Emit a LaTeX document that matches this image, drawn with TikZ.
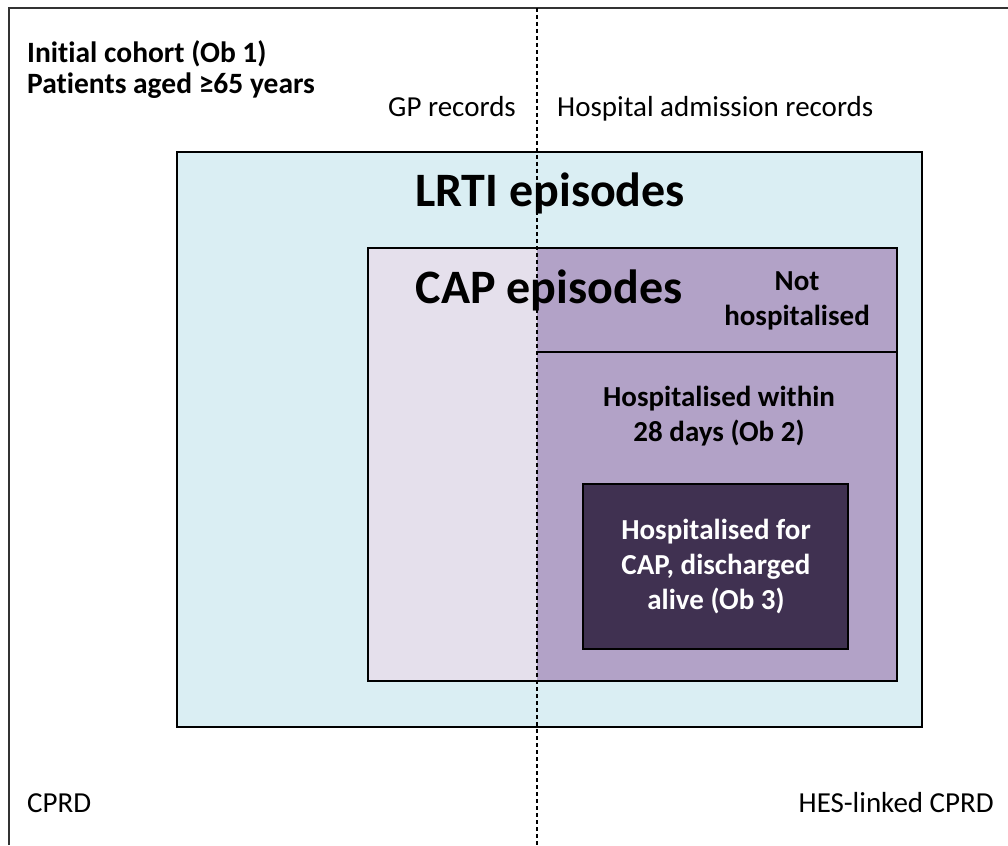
\documentclass[tikz,border=0pt]{standalone}
\usepackage{fontspec}
\setmainfont{Carlito}[Ligatures={TeX,NoCommon}]
\definecolor{lrtiblue}{HTML}{DAEEF3}
\definecolor{caplight}{HTML}{E5E0EC}
\definecolor{capmid}{HTML}{B2A2C7}
\definecolor{capdark}{HTML}{403151}
\begin{document}
\begin{tikzpicture}[x=1pt,y=-1pt,
  box/.style={draw=black,line width=1.8pt},
  plain/.style={inner sep=0pt,font=\fontsize{29}{34}\selectfont},
  hdr/.style={inner sep=0pt,align=left,font=\bfseries\fontsize{29.5}{31}\selectfont},
  title/.style={inner sep=0pt,font=\bfseries\fontsize{48}{56}\selectfont},
  tag/.style={inner sep=0pt,align=center,font=\bfseries\fontsize{29}{35}\selectfont}]
  \useasboundingbox (0,0) rectangle (1008,845);
  \fill[white] (0,0) rectangle (1008,845);
  \coordinate (framebl) at (9,845);
  \coordinate (frametl) at (9,8);
  \coordinate (frametr) at (1008,8);
  \draw[line width=2pt,draw=black!80] (framebl) -- (frametl) -- (frametr);

  \draw[box,fill=lrtiblue] (177,152) rectangle (922,727);
  \fill[caplight] (368,248) rectangle (537,681);
  \fill[capmid] (537,248) rectangle (897,681);
  \draw[box] (368,248) rectangle (897,681);
  \coordinate (splitl) at (537,352);
  \coordinate (splitr) at (897,352);
  \draw[line width=1.8pt] (splitl) -- (splitr);
  \draw[box,fill=capdark] (583,484) rectangle (848,649);

  \node[hdr,anchor=west] (cohort) at (27,70) {Initial cohort (Ob 1)\\Patients aged ≥65 years};
  \node[plain,anchor=base east] (gp) at (516,117) {GP records};
  \node[plain,anchor=base west] (hes) at (557,117) {Hospital admission records};
  \node[title,anchor=base] (lrti) at (550,206) {LRTI episodes};
  \node[title,anchor=base] (cap) at (549,303) {CAP episodes};
  \node[tag] (nothosp) at (797,301) {Not\\hospitalised};
  \node[tag] (hosp28) at (719,416) {Hospitalised within\\28 days (Ob 2)};
  \node[tag,text=white] (hospcap) at (716,567) {Hospitalised for\\CAP, discharged\\alive (Ob 3)};
  \node[plain,anchor=base west] (cprd) at (27,812) {CPRD};
  \node[plain,anchor=base east] (hescprd) at (994,812) {HES-linked CPRD};

  \coordinate (dashtop) at (537,8);
  \coordinate (dashbot) at (537,845);
  \draw[dash pattern=on 4pt off 3pt,line width=1.2pt] (dashtop) -- (dashbot);
\end{tikzpicture}
\end{document}
